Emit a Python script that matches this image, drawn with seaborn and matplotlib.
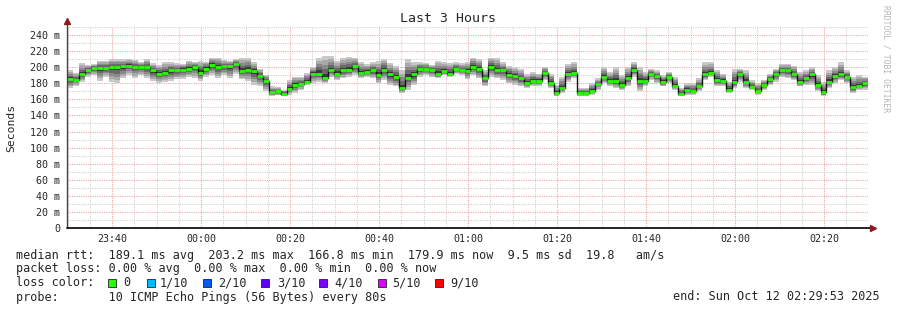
import matplotlib
matplotlib.use("Agg")
import matplotlib.pyplot as plt
import matplotlib.dates as mdates
from matplotlib.patches import Rectangle
from matplotlib.ticker import MultipleLocator, FuncFormatter
import numpy as np
import pandas as pd
import seaborn as sns

# ---------------- data ----------------
start_time = "2025-10-11 23:29:53"
step_seconds = 80

median_ms = [
    185, 184, 191, 197, 199, 199, 199, 200, 200, 201,
    202, 200, 200, 200, 196, 192, 193, 196, 196, 197,
    198, 200, 193, 198, 203, 200, 201, 201, 204, 195,
    197, 195, 189, 183, 169, 170, 167, 173, 178,
    179, 182, 192, 192, 186, 196, 192, 196, 197, 201,
    193, 194, 196, 190, 197, 191, 188, 174, 187, 191,
    198, 198, 196, 192, 195, 192, 198, 196,
    195, 200, 198, 186, 200, 196, 196, 190, 189, 186,
    180, 183, 183, 193, 180, 168, 174, 191, 193, 168,
    168, 171, 179, 188, 183, 183, 178, 186, 197, 183,
    183, 192, 189, 182,
    188, 177, 167, 172, 170, 176, 191, 193, 184, 183,
    172, 181, 191, 182, 175, 170, 178, 185, 191, 196,
    196, 191, 182, 186, 191, 178, 169, 182, 189, 191,
    188, 175, 177, 180,
]

smoke_max_ms = [
    196, 193, 205, 203, 204, 208, 208, 210, 210, 210,
    210, 209, 206, 210, 205, 203, 206, 206, 205, 204,
    208, 206, 208, 207, 212, 212, 209, 208, 210, 212,
    212, 206, 198, 190, 176, 175, 172, 184, 188, 188,
    193, 200, 212, 214, 214, 208, 212, 213, 212, 206,
    204, 206, 208, 210, 205, 202, 196, 210, 206, 206,
    205, 203, 208, 206, 205, 206, 205, 206, 212, 210,
    196, 212, 212, 206, 202, 200, 198, 192, 194, 192,
    200, 192, 178, 188, 204, 206, 174, 174, 180, 186,
    200, 194, 200, 190, 200, 206, 200, 194, 198, 196,
    190, 194, 188, 174, 180, 180, 186, 206, 206, 196,
    192, 182, 198, 198, 196, 184, 180, 184, 192, 198,
    204, 204, 202, 194, 196, 200, 190, 182, 196, 200,
    206, 196, 188, 190, 188,
]

smoke_min_ms = [
    174, 177, 182, 188, 190, 183, 188, 182, 180, 186,
    190, 187, 190, 186, 183, 180, 182, 183, 185, 185,
    188, 187, 183, 188, 190, 186, 190, 186, 192, 185,
    183, 178, 176, 170, 164, 165, 164, 166, 168, 172,
    178, 180, 182, 180, 188, 184, 186, 188, 190, 186,
    188, 186, 180, 184, 178, 176, 168, 172, 178, 188,
    190, 188, 186, 190, 188, 192, 190, 185, 190, 186,
    176, 188, 186, 184, 180, 178, 176, 174, 176, 176,
    184, 174, 164, 168, 182, 186, 164, 164, 166, 172,
    180, 176, 174, 172, 176, 188, 170, 176, 184, 180,
    176, 180, 172, 164, 166, 166, 170, 184, 188, 176,
    176, 168, 174, 182, 174, 172, 166, 172, 178, 182,
    188, 186, 184, 176, 178, 178, 170, 164, 174, 180,
    184, 180, 168, 172, 172,
]

y_ticks = [0, 20, 40, 60, 80, 100, 120, 140, 160, 180, 200, 220, 240]

loss_labels = ["0", "1/10", "2/10", "3/10", "4/10", "5/10", "9/10"]
loss_colors = ["#26ff00", "#00b8ff", "#0059ff", "#5e00ff", "#7e00ff", "#dd00ff", "#ff0000"]

title = "Last 3 Hours"
line_rtt = "median rtt:  189.1 ms avg  203.2 ms max  166.8 ms min  179.9 ms now  9.5 ms sd  19.8   am/s"
line_loss = "packet loss: 0.00 % avg  0.00 % max  0.00 % min  0.00 % now"
line_probe = "probe:       10 ICMP Echo Pings (56 Bytes) every 80s"
line_end = "end: Sun Oct 12 02:29:53 2025"

# ---------------- figure ----------------
sns.set_style("white")
plt.rcParams["font.family"] = ["DejaVu Sans Mono", "DejaVu Sans"]
MONO = "DejaVu Sans Mono"

W, H = 897, 310
fig = plt.figure(figsize=(W / 100, H / 100), dpi=100)
fig.patch.set_facecolor("white")

def fx(x):
    return x / W

def fy(y):
    return 1 - y / H

ax_l, ax_r, ax_b, ax_t = 67, 868, 228, 27
ax = fig.add_axes([fx(ax_l), fy(ax_b), (ax_r - ax_l) / W, (ax_b - ax_t) / H])
ax.set_facecolor("white")

n = len(median_ms)
times = pd.date_range(start_time, periods=n + 1, freq=f"{step_seconds}s")
med = np.array(median_ms, float)
smax = np.maximum(np.array(smoke_max_ms, float), med)
smin = np.minimum(np.array(smoke_min_ms, float), med)

# smoke layers: outer (light) -> inner (dark)
fracs = [1.0, 0.8, 0.6, 0.4, 0.2]
greys = ["#c9c9c9", "#a9a9a9", "#8a8a8a", "#696969", "#3a3a3a"]
for f, c in zip(fracs, greys):
    hi = med + f * (smax - med)
    lo = med - f * (med - smin)
    hi = np.append(hi, hi[-1])
    lo = np.append(lo, lo[-1])
    ax.fill_between(times, lo, hi, step="post", color=c, lw=0, zorder=1)

df = pd.DataFrame({"time": times, "median": np.append(med, med[-1])})
sns.lineplot(data=df, x="time", y="median", drawstyle="steps-post",
             color="#111111", lw=1.0, ax=ax, zorder=3)
ax.hlines(med, times[:-1], times[1:], colors=loss_colors[0], lw=2.0, zorder=4)

# axes limits / ticks
ax.set_xlim(times[0], times[-1])
ax.set_ylim(0, 250)
ax.set_xlabel("")
ax.set_ylabel("")

ax.xaxis.set_major_locator(mdates.MinuteLocator(byminute=[0, 20, 40]))
ax.xaxis.set_minor_locator(mdates.MinuteLocator(byminute=list(range(0, 60, 5))))
ax.xaxis.set_major_formatter(mdates.DateFormatter("%H:%M"))
ax.set_yticks(y_ticks)
ax.yaxis.set_minor_locator(MultipleLocator(10))
ax.yaxis.set_major_formatter(FuncFormatter(lambda v, p: "0" if v == 0 else f"{int(v)} m"))

ax.tick_params(axis="x", which="both", length=0, pad=4.5, labelsize=7.2)
ax.tick_params(axis="y", which="both", length=2, width=0.7, color="#555555",
               pad=3, labelsize=7.2, direction="out")
for lab in ax.get_xticklabels() + ax.get_yticklabels():
    lab.set_fontfamily(MONO)

ax.set_axisbelow(True)
ax.grid(which="major", axis="both", color="#f0a0a0", lw=0.75, linestyle=(0, (1, 1.2)))
ax.grid(which="minor", axis="both", color="#cfcfcf", lw=0.75, linestyle=(0, (1, 1.2)))

for s in ["top", "right", "left", "bottom"]:
    ax.spines[s].set_visible(False)

# axis lines with arrows
ax.plot([0, 0], [0, 1.025], transform=ax.transAxes, color="#444444", lw=1.0,
        clip_on=False, zorder=6)
ax.plot([0, 1.003], [0, 0], transform=ax.transAxes, color="#000000", lw=1.2,
        clip_on=False, zorder=6)
ax.plot([0], [1.03], transform=ax.transAxes, marker="^", ms=4.5,
        color="#8b1a1a", clip_on=False, zorder=7)
ax.plot([1.006], [0], transform=ax.transAxes, marker=">", ms=4.5,
        color="#8b1a1a", clip_on=False, zorder=7)

# ---------------- text ----------------
fig.text(fx(448), fy(19), title, ha="center", va="center", fontsize=9.5, family=MONO)
fig.text(fx(11), fy(128), "Seconds", ha="center", va="center", rotation=90,
         fontsize=8.2, family=MONO)
fig.text(fx(886), fy(5), "RRDTOOL / TOBI OETIKER", ha="center", va="top",
         rotation=270, fontsize=5.8, family=MONO, color="#b5b5b5")

fs = 8.5
fig.text(fx(16), fy(255), line_rtt, ha="left", va="center", fontsize=fs, family=MONO)
fig.text(fx(16), fy(268.5), line_loss, ha="left", va="center", fontsize=fs, family=MONO)
fig.text(fx(16), fy(283), "loss color:", ha="left", va="center", fontsize=fs, family=MONO)
fig.text(fx(16), fy(297), line_probe, ha="left", va="center", fontsize=fs, family=MONO)
fig.text(fx(880), fy(297), line_end, ha="right", va="center", fontsize=fs, family=MONO)

sq_x = [108, 147, 203, 261, 319, 378, 435]
lab_x = [123, 160, 218, 277, 334, 392, 450]
for c, lbl, sx, lx in zip(loss_colors, loss_labels, sq_x, lab_x):
    fig.patches.append(Rectangle((fx(sx), fy(287)), 8 / W, 8 / H, transform=fig.transFigure,
                                 facecolor=c, edgecolor="#222222", lw=0.6, figure=fig))
    fig.text(fx(lx), fy(283), lbl, ha="left", va="center", fontsize=fs, family=MONO)

fig.savefig("out.png", dpi=100, facecolor="white")
